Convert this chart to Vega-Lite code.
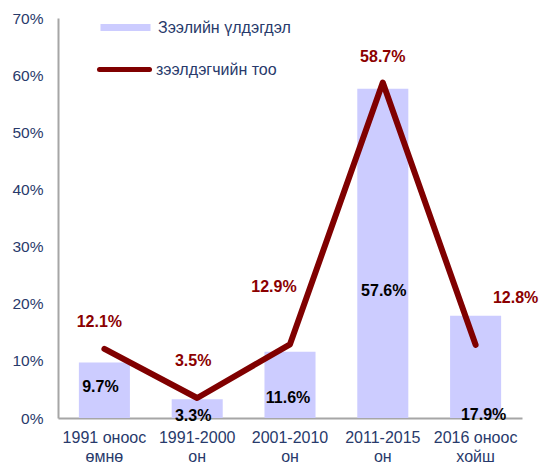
{
  "$schema": "https://vega.github.io/schema/vega-lite/v6.json",
  "width": 464,
  "height": 400,
  "autosize": "none",
  "padding": {"left": 58, "top": 18, "right": 17, "bottom": 45},
  "background": "white",
  "config": {
    "view": {"stroke": null},
    "font": "Liberation Sans",
    "legend": {"labelFont": "Liberation Sans", "labelFontSize": 16, "labelColor": "#283a6b", "padding": 0}
  },
  "data": {
    "values": [
      {"period": "1991 оноос өмнө", "loan": 0.097, "borrowers": 0.121},
      {"period": "1991-2000 он", "loan": 0.033, "borrowers": 0.035},
      {"period": "2001-2010 он", "loan": 0.116, "borrowers": 0.129},
      {"period": "2011-2015 он", "loan": 0.576, "borrowers": 0.587},
      {"period": "2016 оноос хойш", "loan": 0.179, "borrowers": 0.128}
    ]
  },
  "encoding": {
    "x": {
      "field": "period",
      "type": "nominal",
      "sort": null,
      "scale": {"paddingInner": 0.45, "paddingOuter": 0.225},
      "axis": {
        "title": null,
        "labelAngle": 0,
        "ticks": false,
        "domainColor": "#a6a6a6",
        "domainWidth": 2,
        "labelPadding": 11,
        "labelFontSize": 16,
        "labelColor": "#283a6b",
        "labelFont": "Liberation Sans",
        "labelLineHeight": 19,
        "labelExpr": "[substring(datum.label, 0, lastindexof(datum.label, ' ')), substring(datum.label, lastindexof(datum.label, ' ') + 1)]"
      }
    }
  },
  "layer": [
    {
      "mark": {"type": "bar"},
      "encoding": {
        "y": {
          "field": "loan",
          "type": "quantitative",
          "scale": {"domain": [0, 0.7]},
          "axis": {
            "title": null,
            "values": [0, 0.1, 0.2, 0.3, 0.4, 0.5, 0.6, 0.7],
            "format": ".0%",
            "grid": false,
            "ticks": false,
            "domainColor": "#a6a6a6",
            "domainWidth": 2,
            "labelPadding": 15,
            "labelFontSize": 15.5,
            "labelColor": "#283a6b",
            "labelFont": "Liberation Sans"
          }
        },
        "fill": {
          "datum": "Зээлийн үлдэгдэл",
          "scale": {"range": ["#ccccff"]},
          "legend": {
            "title": null,
            "orient": "none",
            "legendX": 39,
            "legendY": -19,
            "symbolType": "stroke",
            "symbolSize": 2500,
            "symbolStrokeWidth": 7,
            "symbolStrokeColor": "#ccccff",
            "labelOffset": 4,
            "encode": {"symbols": {"update": {"stroke": {"value": "#ccccff"}, "strokeWidth": {"value": 7}, "strokeCap": {"value": "butt"}}}}
          }
        }
      }
    },
    {
      "mark": {"type": "line", "strokeWidth": 6, "strokeCap": "round", "strokeJoin": "round"},
      "encoding": {
        "y": {"field": "borrowers", "type": "quantitative"},
        "stroke": {
          "datum": "зээлдэгчийн тоо",
          "scale": {"range": ["#800000"]},
          "legend": {
            "title": null,
            "orient": "none",
            "legendX": 39,
            "legendY": 24,
            "symbolType": "stroke",
            "symbolSize": 2500,
            "symbolStrokeWidth": 5,
            "labelOffset": 4,
            "encode": {"symbols": {"update": {"stroke": {"value": "#800000"}, "strokeWidth": {"value": 5}, "strokeCap": {"value": "round"}}}}
          }
        }
      }
    },
    {
      "transform": [{"filter": "datum.period == '1991 оноос өмнө'"}],
      "mark": {"type": "text", "fontWeight": "bold", "fontSize": 16, "color": "#000000", "baseline": "middle", "dx": -4, "dy": 24.5},
      "encoding": {"y": {"field": "loan", "type": "quantitative"}, "text": {"field": "loan", "type": "quantitative", "format": ".1%"}}
    },
    {
      "transform": [{"filter": "datum.period == '1991-2000 он'"}],
      "mark": {"type": "text", "fontWeight": "bold", "fontSize": 16, "color": "#000000", "baseline": "middle", "dx": -4, "dy": 17},
      "encoding": {"y": {"field": "loan", "type": "quantitative"}, "text": {"field": "loan", "type": "quantitative", "format": ".1%"}}
    },
    {
      "transform": [{"filter": "datum.period == '2001-2010 он'"}],
      "mark": {"type": "text", "fontWeight": "bold", "fontSize": 16, "color": "#000000", "baseline": "middle", "dx": -2, "dy": 46},
      "encoding": {"y": {"field": "loan", "type": "quantitative"}, "text": {"field": "loan", "type": "quantitative", "format": ".1%"}}
    },
    {
      "transform": [{"filter": "datum.period == '2011-2015 он'"}],
      "mark": {"type": "text", "fontWeight": "bold", "fontSize": 16, "color": "#000000", "baseline": "middle", "dx": 1, "dy": 202},
      "encoding": {"y": {"field": "loan", "type": "quantitative"}, "text": {"field": "loan", "type": "quantitative", "format": ".1%"}}
    },
    {
      "transform": [{"filter": "datum.period == '2016 оноос хойш'"}],
      "mark": {"type": "text", "fontWeight": "bold", "fontSize": 16, "color": "#000000", "baseline": "middle", "dx": 8, "dy": 99},
      "encoding": {"y": {"field": "loan", "type": "quantitative"}, "text": {"field": "loan", "type": "quantitative", "format": ".1%"}}
    },
    {
      "transform": [{"filter": "datum.period == '1991 оноос өмнө'"}],
      "mark": {"type": "text", "fontWeight": "bold", "fontSize": 16, "color": "#8b0000", "baseline": "middle", "dx": -5, "dy": -27},
      "encoding": {"y": {"field": "borrowers", "type": "quantitative"}, "text": {"field": "borrowers", "type": "quantitative", "format": ".1%"}}
    },
    {
      "transform": [{"filter": "datum.period == '1991-2000 он'"}],
      "mark": {"type": "text", "fontWeight": "bold", "fontSize": 16, "color": "#8b0000", "baseline": "middle", "dx": -4, "dy": -37},
      "encoding": {"y": {"field": "borrowers", "type": "quantitative"}, "text": {"field": "borrowers", "type": "quantitative", "format": ".1%"}}
    },
    {
      "transform": [{"filter": "datum.period == '2001-2010 он'"}],
      "mark": {"type": "text", "fontWeight": "bold", "fontSize": 16, "color": "#8b0000", "baseline": "middle", "dx": -16, "dy": -57},
      "encoding": {"y": {"field": "borrowers", "type": "quantitative"}, "text": {"field": "borrowers", "type": "quantitative", "format": ".1%"}}
    },
    {
      "transform": [{"filter": "datum.period == '2011-2015 он'"}],
      "mark": {"type": "text", "fontWeight": "bold", "fontSize": 16, "color": "#8b0000", "baseline": "middle", "dx": 0, "dy": -26},
      "encoding": {"y": {"field": "borrowers", "type": "quantitative"}, "text": {"field": "borrowers", "type": "quantitative", "format": ".1%"}}
    },
    {
      "transform": [{"filter": "datum.period == '2016 оноос хойш'"}],
      "mark": {"type": "text", "fontWeight": "bold", "fontSize": 16, "color": "#8b0000", "baseline": "middle", "dx": 40, "dy": -47},
      "encoding": {"y": {"field": "borrowers", "type": "quantitative"}, "text": {"field": "borrowers", "type": "quantitative", "format": ".1%"}}
    }
  ]
}
